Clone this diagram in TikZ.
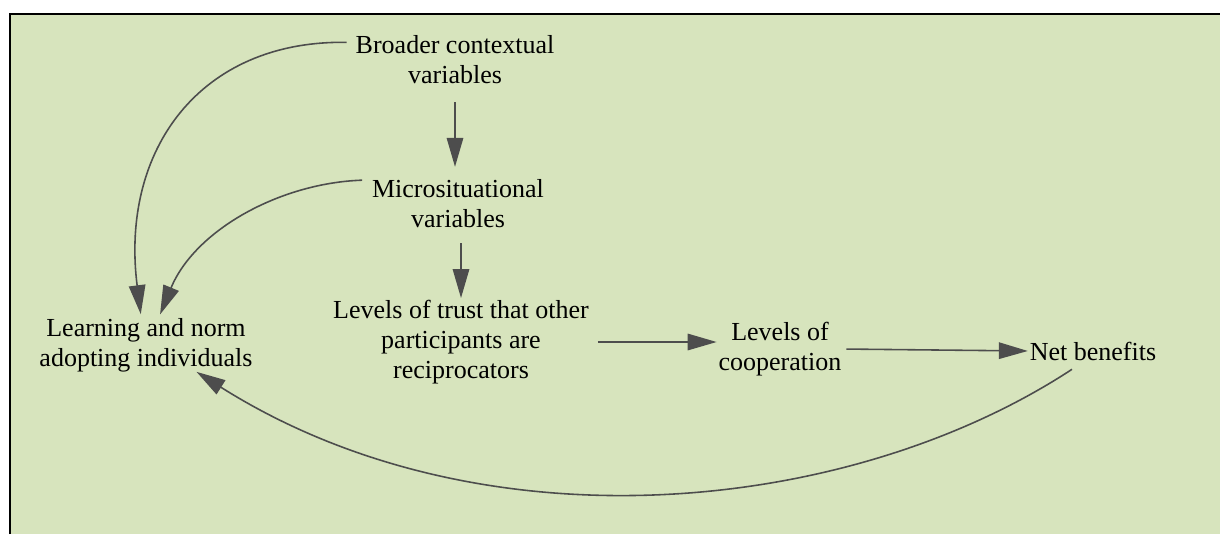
\documentclass[tikz,border=0pt]{standalone}
\usepackage{fontspec}
\setmainfont{Liberation Serif}
\usetikzlibrary{
  arrows.meta,
  calc
}
\definecolor{meadow}{HTML}{D7E4BD}
\definecolor{wire}{HTML}{4D4D4D}
\definecolor{ink}{HTML}{000000}

\begin{document}
\begin{tikzpicture}[
  x=0.02cm, y=-0.02cm,
  var/.style={align=center, inner sep=0pt, outer sep=0pt, text=ink,
              font=\fontsize{14.8}{17.1}\selectfont},
  arr/.style={-{Triangle[length=0.58cm, width=0.33cm]}, draw=wire, line width=0.9pt},
]
  \useasboundingbox (0,0) rectangle (1220,534);
  % Panel
  \fill[white] (0,0) rectangle (1220,534);
  \fill[meadow] (10,14) rectangle (1220,534);
  \draw[line width=0.05cm] (10,534) -- (10,14) -- (1220,14);

  % Variables
  \node[var] (broad) at (455, 60) {Broader contextual\\variables};
  \node[var] (micro) at (458, 204) {Microsituational\\variables};
  \node[var] (trust) at (461, 342) {Levels of trust that other\\participants are\\reciprocators};
  \node[var] (coop) at (780, 349) {Levels of\\cooperation};
  \node[var] (net) at (1093, 351) {Net benefits};
  \node[var] (learn) at (146, 345) {Learning and norm\\adopting individuals};

  % Main chain
  \draw[arr, shorten <=0.36cm, shorten >=0.26cm] (broad.south) -- (broad.south |- micro.north);
  \draw[arr, shorten <=0.3cm, shorten >=0.04cm] (trust.north |- micro.south) -- (trust.north);
  \draw[arr, shorten <=0.18cm, shorten >=0.04cm] (trust.east) -- (trust.east -| coop.west);
  \draw[arr, shorten <=0.1cm, shorten >=0.04cm] (coop.east) -- (net.west);

  % Influences on individuals
  \draw[arr, shorten <=0.18cm, shorten >=0.08cm]
    (broad.170) .. controls (200,40) and (120,150) .. (learn.100);
  \draw[arr, shorten <=0.2cm, shorten >=0.08cm]
    (micro.north west) .. controls (280,183) and (195,230) .. (learn.65);

  % Feedback loop
  \draw[arr] ($(net.south)+(-21,9)$) .. controls (850,515) and (482,552) .. (learn.-28);
\end{tikzpicture}
\end{document}
